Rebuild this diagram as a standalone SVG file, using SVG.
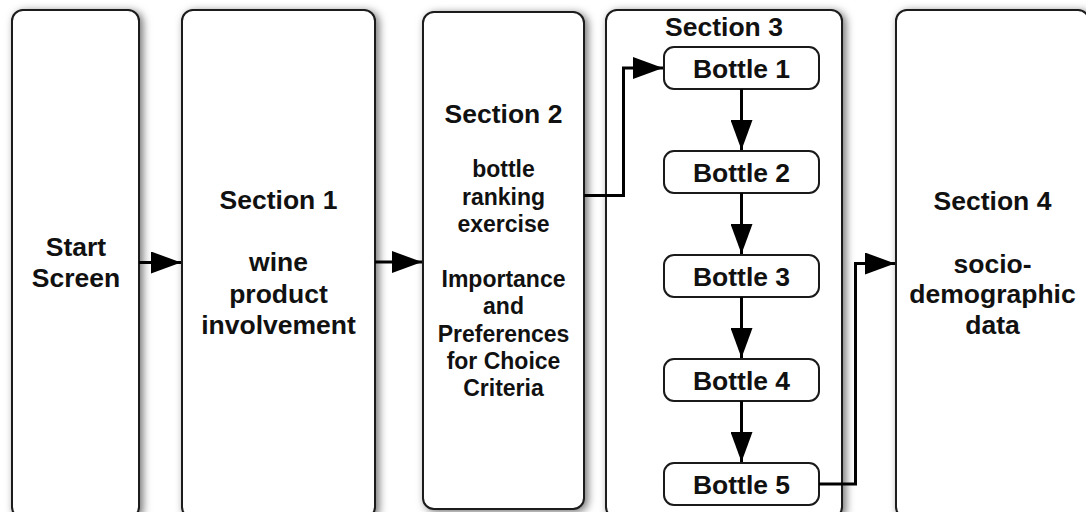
<svg xmlns="http://www.w3.org/2000/svg" width="1086" height="512" viewBox="0 0 1086 512">
<defs>
<style>
.box{fill:#fff;stroke:#1a1a1a;stroke-width:2;filter:url(#sh)}
.bt{fill:#fff;stroke:#1a1a1a;stroke-width:2}
text{font-family:"Liberation Sans",Arial,sans-serif;font-weight:bold;fill:#111;text-anchor:middle}
.t{font-size:26.5px}
.s{font-size:23px}
.c{fill:none;stroke:#000;stroke-width:3}
</style>
<filter id="sh" x="-20%" y="-5%" width="140%" height="110%">
<feDropShadow dx="3" dy="2" stdDeviation="4" flood-color="#000" flood-opacity="0.55"/>
</filter>
<marker id="ah" viewBox="0 0 30 22" refX="30" refY="11" markerWidth="30" markerHeight="22" markerUnits="userSpaceOnUse" orient="auto">
<path d="M0,0 L30,11 L0,22 Z" fill="#000"/>
</marker>
</defs>
<rect width="1086" height="512" fill="#fff"/>
<g id="start">
<rect class="box" x="12" y="10" width="127" height="508" rx="11"/>
<text class="t" x="76" y="256">Start</text>
<text class="t" x="76" y="287">Screen</text>
</g>
<g id="section1">
<rect class="box" x="182" y="10" width="193" height="508" rx="11"/>
<text class="t" x="278.5" y="209">Section 1</text>
<text class="t" x="278.5" y="271">wine</text>
<text class="t" x="278.5" y="303">product</text>
<text class="t" x="278.5" y="334">involvement</text>
</g>
<g id="section2">
<rect class="box" x="423" y="12" width="161" height="497" rx="11"/>
<text class="t" x="503.5" y="122.5">Section 2</text>
<text class="s" x="503.5" y="177">bottle</text>
<text class="s" x="503.5" y="205">ranking</text>
<text class="s" x="503.5" y="232">exercise</text>
<text class="s" x="503.5" y="287">Importance</text>
<text class="s" x="503.5" y="314">and</text>
<text class="s" x="503.5" y="342">Preferences</text>
<text class="s" x="503.5" y="369">for Choice</text>
<text class="s" x="503.5" y="396">Criteria</text>
</g>
<g id="section3">
<rect class="box" x="606" y="10" width="236" height="508" rx="11"/>
<text class="t" x="724" y="35.5">Section 3</text>
</g>
<g id="section4">
<rect class="box" x="896" y="10" width="193" height="508" rx="11"/>
<text class="t" x="992.5" y="210">Section 4</text>
<text class="t" x="992.5" y="272.5">socio-</text>
<text class="t" x="992.5" y="303">demographic</text>
<text class="t" x="992.5" y="333.5">data</text>
</g>
<g id="bottle1"><rect class="bt" x="664" y="47" width="155" height="42" rx="10"/><text class="t" x="741.5" y="78">Bottle 1</text></g>
<g id="bottle2"><rect class="bt" x="664" y="151" width="155" height="42" rx="10"/><text class="t" x="741.5" y="182">Bottle 2</text></g>
<g id="bottle3"><rect class="bt" x="664" y="255" width="155" height="42" rx="10"/><text class="t" x="741.5" y="286">Bottle 3</text></g>
<g id="bottle4"><rect class="bt" x="664" y="359" width="155" height="42" rx="10"/><text class="t" x="741.5" y="390">Bottle 4</text></g>
<g id="bottle5"><rect class="bt" x="664" y="463" width="155" height="42" rx="10"/><text class="t" x="741.5" y="494">Bottle 5</text></g>
<g id="connectors">
<path class="c" d="M139,262.5 H181" marker-end="url(#ah)"/>
<path class="c" d="M375,262 H422" marker-end="url(#ah)"/>
<path class="c" d="M584,195.5 H623.5 V68 H663" marker-end="url(#ah)"/>
<path class="c" d="M741.5,89 V150" marker-end="url(#ah)"/>
<path class="c" d="M741.5,193 V254" marker-end="url(#ah)"/>
<path class="c" d="M741.5,297 V358" marker-end="url(#ah)"/>
<path class="c" d="M741.5,401 V462" marker-end="url(#ah)"/>
<path class="c" d="M819,484 H855.5 V263.5 H895" marker-end="url(#ah)"/>
</g>
</svg>
